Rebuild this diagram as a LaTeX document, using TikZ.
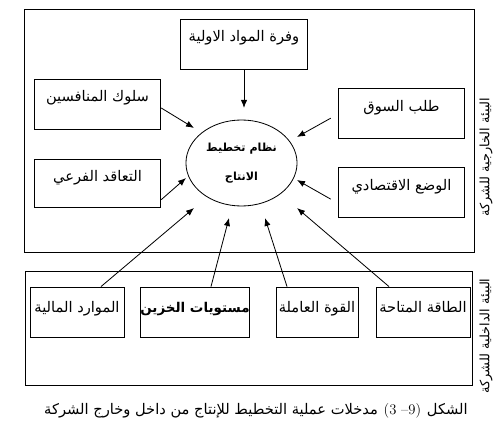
\documentclass[tikz,border=0pt]{standalone}
\usepackage{fontspec}
\usetikzlibrary{shapes.geometric,arrows.meta}
\newfontfamily\arabicfont[Script=Arabic]{DejaVu Sans}
\TeXXeTstate=1
\newcommand{\ar}[1]{{\arabicfont\beginR #1\endR}}
\tikzset{
  box/.style={draw, line width=0.7pt, inner sep=0pt, minimum width=#1, text height=0.68cm, text depth=0.82cm,
    font=\arabicfont\fontsize{12.5}{14}\selectfont},
  box/.default=3.8cm,
  lowbox/.style={box=#1, text height=0.76cm, text depth=0.74cm},
  outerframe/.style={draw, line width=0.7pt},
  arr/.style={->, line width=0.7pt},
  captext/.style={inner sep=0pt, font=\fontsize{12.5}{14}\selectfont}
}
\begin{document}
\begin{tikzpicture}[>={Latex[length=2.4mm,width=1.9mm]}, x=0.03cm, y=-0.03cm]
    \useasboundingbox (0,0) rectangle (500,431);
    % Outer frames
    \draw[outerframe] (24,9) rectangle (474,252);
    \draw[outerframe] (25,271) rectangle (472,385);
    \node[rotate=90, font=\fontsize{11}{12}\selectfont] (outside) at (486,157) {\ar{البيئة الخارجية للشركة}};
    \node[rotate=90, font=\fontsize{11}{12}\selectfont] (inside) at (486,336) {\ar{البيئة الداخلية للشركة}};

    % External inputs
    \node[box] (raw) at (244,44) {\ar{وفرة المواد الاولية}};
    \node[box] (comp) at (97.5,104) {\ar{سلوك المنافسين}};
    \node[box, text depth=0.76cm] (sub) at (97.5,183) {\ar{التعاقد الفرعي}};
    \node[box] (market) at (401.5,113.5) {\ar{طلب السوق}};
    \node[box] (econ) at (401.5,192.5) {\ar{الوضع الاقتصادي}};

    % Centre
    \node[draw, line width=0.7pt, ellipse, minimum width=3.27cm, minimum height=2.58cm, align=center,
      font=\bfseries\fontsize{9.5}{25}\selectfont] (plan) at (241.5,163)
      {\ar{نظام تخطيط}\\\ar{الانتاج}};

    % Internal inputs
    \node[lowbox=2.82cm] (fin) at (77,312) {\ar{الموارد المالية}};
    \node[lowbox=3.06cm, font=\arabicfont\bfseries\fontsize{11.5}{14}\selectfont] (stock) at (195,312) {\ar{مستويات الخزين}};
    \node[lowbox=2.46cm] (labour) at (317,312) {\ar{القوة العاملة}};
    \node[lowbox=2.82cm] (energy) at (423,312) {\ar{الطاقة المتاحة}};

    % Arrow tips
    \coordinate (t1) at (244,108);
    \coordinate (t2) at (194,128);
    \coordinate (t3) at (297,137);
    \coordinate (t4) at (186,178);
    \coordinate (t5) at (297,180);
    \coordinate (t6) at (194,208);
    \coordinate (t7) at (229,218);
    \coordinate (t8) at (265,218);
    \coordinate (t9) at (297,208);

    \draw[arr] (raw) -- (t1);
    \draw[arr] ([yshift=-0.12cm]comp.east) -- (t2);
    \draw[arr] ([xshift=-0.21cm,yshift=-0.14cm]market.west) -- (t3);
    \draw[arr] ([yshift=-0.5cm]sub.east) -- (t4);
    \draw[arr] ([xshift=-0.21cm,yshift=-0.2cm]econ.west) -- (t5);
    \draw[arr] ([xshift=0.72cm]fin.north) -- (t6);
    \draw[arr] ([xshift=0.48cm]stock.north) -- (t7);
    \draw[arr] ([xshift=-0.9cm]labour.north) -- (t8);
    \draw[arr] ([xshift=-1.02cm]energy.north) -- (t9);

    % Caption (digits come out in right-to-left order here)
    \node[captext, anchor=base east] (capword) at (468,415) {\ar{الشكل}};
    \node[captext, anchor=base east] (capnum) at ([xshift=-0.16cm]capword.base west) {(3 –9)};
    \node[captext, anchor=base east] (caprest) at ([xshift=-0.16cm]capnum.base west)
      {\ar{مدخلات عملية التخطيط للإنتاج من داخل وخارج الشركة}};
\end{tikzpicture}
\end{document}
